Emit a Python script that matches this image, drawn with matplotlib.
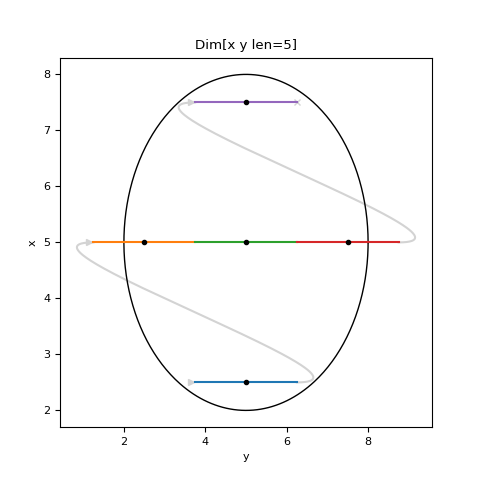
import numpy as np
import matplotlib
matplotlib.use("Agg")
import matplotlib.pyplot as plt

plt.rcParams["font.size"] = 8

# Data
row_x = [2.5, 5.0, 5.0, 5.0, 7.5]            # vertical axis ("x") of each segment
seg_start = [3.75, 1.25, 3.75, 6.25, 3.75]   # horizontal axis ("y") start
seg_end = [6.25, 3.75, 6.25, 8.75, 6.25]     # horizontal axis ("y") end
centers = [5.0, 2.5, 5.0, 7.5, 5.0]
colors = ["C0", "C1", "C2", "C3", "C4"]
ellipse_center = (5.0, 5.0)
ellipse_radius = (3.0, 3.0)
bend = 2.5

fig, ax = plt.subplots(figsize=(4.8, 4.8), dpi=100)

# ellipse
t = np.linspace(0, 2 * np.pi, 400)
ax.plot(ellipse_center[0] + ellipse_radius[0] * np.cos(t),
        ellipse_center[1] + ellipse_radius[1] * np.sin(t), color="black", lw=1)

# connecting gray path
gray = "lightgray"
def bez(p0, p1, p2, p3, n=200):
    s = np.linspace(0, 1, n)[:, None]
    return ((1 - s) ** 3) * p0 + 3 * ((1 - s) ** 2) * s * p1 + 3 * (1 - s) * s ** 2 * p2 + s ** 3 * p3

for i in range(len(row_x) - 1):
    if row_x[i + 1] != row_x[i]:
        p0 = np.array([seg_end[i], row_x[i]])
        p3 = np.array([seg_start[i + 1], row_x[i + 1]])
        pts = bez(p0, p0 + [bend, 0], p3 - [bend, 0], p3)
        ax.plot(pts[:, 0], pts[:, 1], color=gray, lw=1.5, zorder=1)

# start markers for each row
for i in range(len(row_x)):
    if i == 0 or row_x[i] != row_x[i - 1]:
        ax.plot(seg_start[i] - 0.1, row_x[i], marker=">", color=gray, ms=5, zorder=1)
ax.plot(seg_end[-1], row_x[-1], marker="x", color=gray, ms=5, zorder=1)

# segments
for xs, a, b, c, col in zip(row_x, seg_start, seg_end, centers, colors):
    ax.plot([a, b], [xs, xs], color=col, lw=1.5, zorder=2)
    ax.plot(c, xs, "o", color="black", ms=3, zorder=3)

ax.set_title("Dim[x y len=5]")
ax.set_xlabel("y")
ax.set_ylabel("x")
ax.set_xticks([2, 4, 6, 8])

fig.savefig("out.png", dpi=100)
